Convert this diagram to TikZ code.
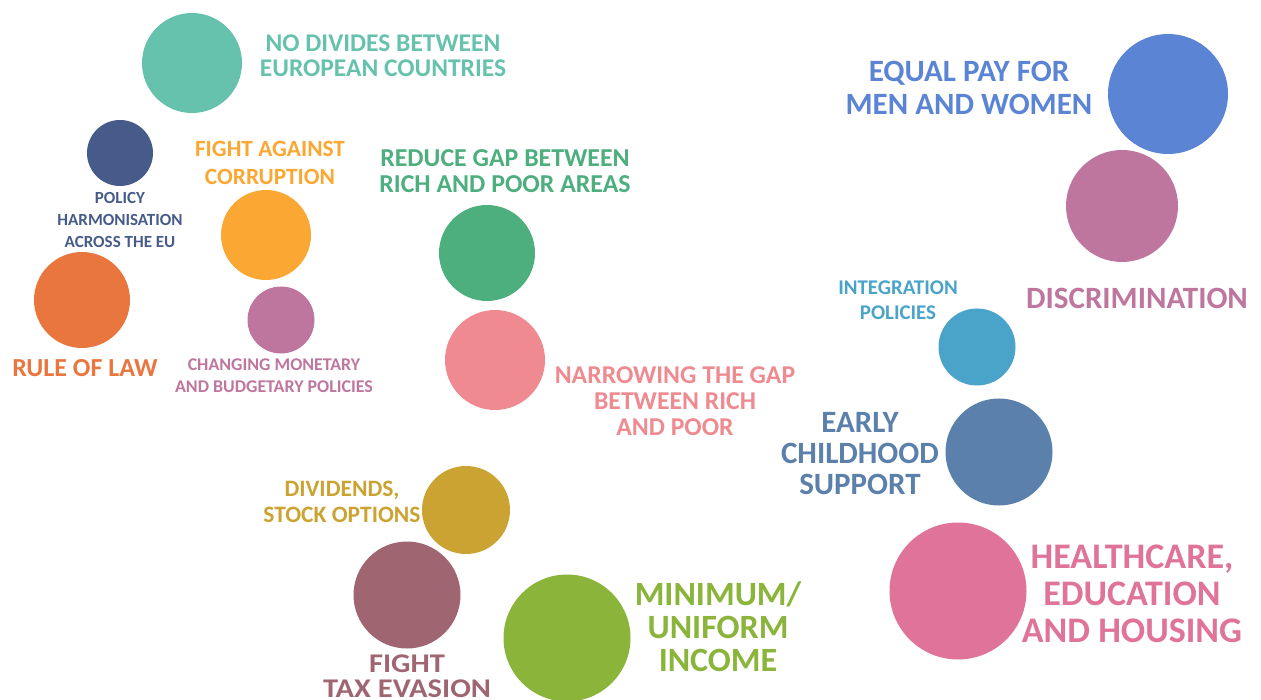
\documentclass[tikz,border=0pt]{standalone}
\usepackage{fontspec}
\setmainfont{Carlito}
\definecolor{cteal}{HTML}{66C2AC}
\definecolor{cnavy}{HTML}{465B8A}
\definecolor{corange}{HTML}{FBA733}
\definecolor{cred}{HTML}{E9763F}
\definecolor{cpurple}{HTML}{BE769E}
\definecolor{cgreen}{HTML}{4DAE7E}
\definecolor{cpink}{HTML}{EE8A90}
\definecolor{cblue}{HTML}{5B84D4}
\definecolor{cmauve}{HTML}{BE769E}
\definecolor{clight}{HTML}{4AA3C8}
\definecolor{csteel}{HTML}{5A80AB}
\definecolor{chealth}{HTML}{E07399}
\definecolor{cgold}{HTML}{CBA333}
\definecolor{cbrown}{HTML}{9F6672}
\definecolor{clime}{HTML}{8AB43A}
\tikzset{
  bubble/.style={circle, inner sep=0pt, draw=none},
  lbl/.style={align=center, inner sep=0pt},
}
\newcommand{\fsz}[2]{\bfseries\fontsize{#1}{#2}\selectfont}
\newcommand{\wide}[1]{\scalebox{1.13}[1]{#1}}
\begin{document}
\begin{tikzpicture}[x=1pt,y=-1pt]
\useasboundingbox (0,0) rectangle (1261,700);
% bubbles
\node[bubble, fill=cteal, minimum size=100pt] (b1) at (192,63) {};
\node[bubble, fill=cnavy, minimum size=66pt] (b2) at (120,153) {};
\node[bubble, fill=corange, minimum size=90pt] (b3) at (266,235) {};
\node[bubble, fill=cred, minimum size=96pt] (b4) at (82,300) {};
\node[bubble, fill=cpurple, minimum size=67pt] (b5) at (281,320) {};
\node[bubble, fill=cgreen, minimum size=96pt] (b6) at (487,253) {};
\node[bubble, fill=cpink, minimum size=100pt] (b7) at (495,360) {};
\node[bubble, fill=cblue, minimum size=120pt] (b8) at (1168,94) {};
\node[bubble, fill=cmauve, minimum size=112pt] (b9) at (1122,206) {};
\node[bubble, fill=clight, minimum size=77pt] (b10) at (977,347) {};
\node[bubble, fill=csteel, minimum size=107pt] (b11) at (999,452) {};
\node[bubble, fill=chealth, minimum size=137pt] (b12) at (958,591) {};
\node[bubble, fill=cgold, minimum size=88pt] (b13) at (466,510) {};
\node[bubble, fill=cbrown, minimum size=107pt] (b14) at (407,595) {};
\node[bubble, fill=clime, minimum size=127pt] (b15) at (567,638) {};
% labels
\node[lbl, text=cteal, font=\fsz{25.5}{25}] (t1) at (383,56) {NO DIVIDES BETWEEN\\EUROPEAN COUNTRIES};
\node[lbl, text=cnavy, font=\fsz{17}{22}] (t2) at (120,220) {POLICY\\HARMONISATION\\ACROSS THE EU};
\node[lbl, text=corange, font=\fsz{23.3}{28}] (t3) at (270,163) {FIGHT AGAINST\\CORRUPTION};
\node[lbl, text=cred, font=\fsz{26}{26}] (t4) at (85,368) {RULE OF LAW};
\node[lbl, text=cpurple, font=\fsz{17.9}{22}] (t5) at (274,376) {CHANGING MONETARY\\AND BUDGETARY POLICIES};
\node[lbl, text=cgreen, font=\fsz{25.8}{26}] (t6) at (505,171) {REDUCE GAP BETWEEN\\RICH AND POOR AREAS};
\node[lbl, text=cpink, font=\fsz{25.7}{26}] (t7) at (675,401) {NARROWING THE GAP\\BETWEEN RICH\\AND POOR};
\node[lbl, text=cblue, font=\fsz{31}{33}] (t8) at (969,88) {EQUAL PAY FOR\\MEN AND WOMEN};
\node[lbl, text=cmauve, font=\fsz{31}{31}] (t9) at (1137,298) {DISCRIMINATION};
\node[lbl, text=clight, font=\fsz{20.9}{25}] (t10) at (898,300) {INTEGRATION\\POLICIES};
\node[lbl, text=csteel, font=\fsz{31}{31}] (t11) at (860,454) {EARLY\\CHILDHOOD\\SUPPORT};
\node[lbl, text=chealth, font=\fsz{36}{37}] (t12) at (1132,594) {HEALTHCARE,\\EDUCATION\\AND HOUSING};
\node[lbl, text=cgold, font=\fsz{23.5}{26}] (t13) at (342,502) {DIVIDENDS,\\STOCK OPTIONS};
\node[lbl, text=cbrown, font=\fsz{27}{25}] (t14) at (407,676) {\wide{FIGHT}\\\wide{TAX EVASION}};
\node[lbl, text=clime, font=\fsz{34}{33}] (t15) at (718,627) {MINIMUM/\\UNIFORM\\INCOME};
\end{tikzpicture}
\end{document}
